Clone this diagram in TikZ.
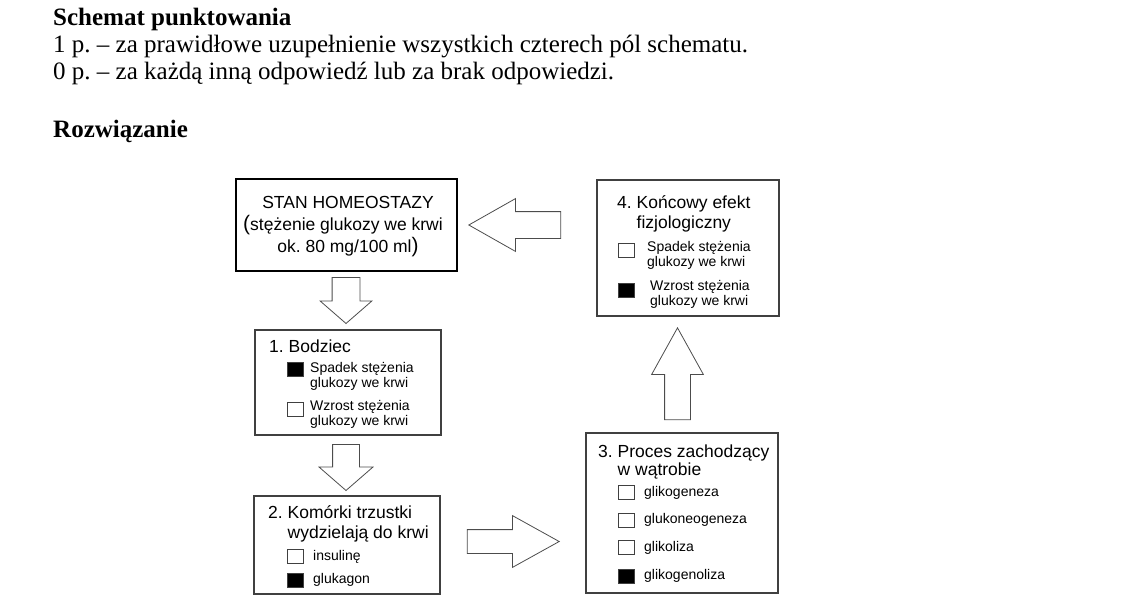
\documentclass[tikz,border=0pt]{standalone}
\usepackage{fontspec}
\setmainfont{Liberation Serif}
\newfontfamily\arial{Liberation Sans}
\usetikzlibrary{shapes.arrows}
\frenchspacing

\begin{document}
\begin{tikzpicture}[x=1pt, y=-1pt,
    txt/.style={font=\fontsize{25}{27}\selectfont, anchor=base west, inner sep=0},
    box/.style={draw=black!75, line width=1.2pt, inner sep=0},
    head/.style={font=\arial\fontsize{17.5}{20}\selectfont, anchor=base west, inner sep=0, align=left},
    opt/.style={font=\arial\fontsize{14}{15}\selectfont, anchor=base west, inner sep=0, align=left},
    chk/.style={draw=black!75, line width=0.8pt, minimum width=16, minimum height=14, inner sep=0},
    chkon/.style={chk, fill=black},
    blk/.style={single arrow, draw=black!70, line width=0.8pt, inner xsep=0, anchor=tip}]
  \useasboundingbox (0,0) rectangle (1146,603);

  % tekst nad schematem
  \node[txt, font=\bfseries\fontsize{25}{27}\selectfont] (title) at (53,25) {Schemat punktowania};
  \node[txt] (p1) at (53,52) {1 p. – za prawidłowe uzupełnienie wszystkich czterech pól schematu.};
  \node[txt] (p0) at (53,79) {0 p. – za każdą inną odpowiedź lub za brak odpowiedzi.};
  \node[txt, font=\bfseries\fontsize{25}{27}\selectfont] (rozw) at (53,137) {Rozwiązanie};

  % ramki
  \node[box, draw=black, line width=2.4pt, minimum width=221, minimum height=92] (stan) at (346.5,225) {};
  \node[box, minimum width=186, minimum height=105] (bodziec) at (348,382.5) {};
  \node[box, minimum width=186, minimum height=98] (komorki) at (347,545) {};
  \node[box, minimum width=192, minimum height=160] (proces) at (682,513) {};
  \node[box, minimum width=182, minimum height=136] (efekt) at (688,248) {};

  % stan homeostazy
  \node[head, anchor=base] (s1) at (348,208) {STAN HOMEOSTAZY};
  \node[head, anchor=base] (s2) at (343,230) {{\fontsize{21}{21}\selectfont(}stężenie glukozy we krwi};
  \node[head, anchor=base] (s3) at (348,252) {ok. 80 mg/100 ml{\fontsize{21}{21}\selectfont)}};

  % 1. bodziec (base = ostatnia linia)
  \node[head] (b0) at (269,352) {1. Bodziec};
  \node[chkon] (b1) at (295,369) {};
  \node[opt] (b1t) at (310,387) {Spadek stężenia\\glukozy we krwi};
  \node[chk] (b2) at (295,409) {};
  \node[opt] (b2t) at (310,425) {Wzrost stężenia\\glukozy we krwi};

  % 2. komorki trzustki
  \node[head] (k0) at (268,538) {2. Komórki trzustki\\\phantom{2. }wydzielają do krwi};
  \node[chk] (k1) at (295,556) {};
  \node[opt] (k1t) at (313,560) {insulinę};
  \node[chkon] (k2) at (295,580) {};
  \node[opt] (k2t) at (313,583) {glukagon};

  % 3. proces w watrobie
  \node[head] (w0) at (598,475) {3. Proces zachodzący\\[-2pt]\phantom{3. }w wątrobie};
  \node[chk] (w1) at (626.5,492.5) {};
  \node[opt] (w1t) at (644,496) {glikogeneza};
  \node[chk] (w2) at (626.5,520) {};
  \node[opt] (w2t) at (644,523) {glukoneogeneza};
  \node[chk] (w3) at (626.5,547.5) {};
  \node[opt] (w3t) at (644,551) {glikoliza};
  \node[chkon] (w4) at (626.5,576) {};
  \node[opt] (w4t) at (644,579) {glikogenoliza};

  % 4. efekt koncowy
  \node[head] (e0) at (617,228) {4. Końcowy efekt\\\phantom{4. }fizjologiczny};
  \node[chk] (e1) at (626,250) {};
  \node[opt] (e1t) at (647,266) {Spadek stężenia\\glukozy we krwi};
  \node[chkon] (e2) at (626,290) {};
  \node[opt] (e2t) at (650,305) {Wzrost stężenia\\glukozy we krwi};

  % strzalki
  \node[blk, minimum height=92, inner ysep=13, single arrow head extend=13,
    single arrow tip angle=59, shape border rotate=180] (a0) at (468,225) {};
  \node[blk, minimum height=46, inner xsep=13.5, inner ysep=0, single arrow head extend=12,
    single arrow tip angle=98, shape border rotate=270] (a1) at (346,324) {};
  \node[blk, minimum height=46, inner xsep=13, inner ysep=0, single arrow head extend=13.5,
    single arrow tip angle=98, shape border rotate=270] (a2) at (346,491) {};
  \node[blk, minimum height=92, inner ysep=11.5, single arrow head extend=14,
    single arrow tip angle=58] (a3) at (560,541.5) {};
  \node[blk, minimum height=92, inner xsep=12.5, inner ysep=0, single arrow head extend=13,
    single arrow tip angle=58, shape border rotate=90] (a4) at (677.5,327) {};
\end{tikzpicture}
\end{document}
